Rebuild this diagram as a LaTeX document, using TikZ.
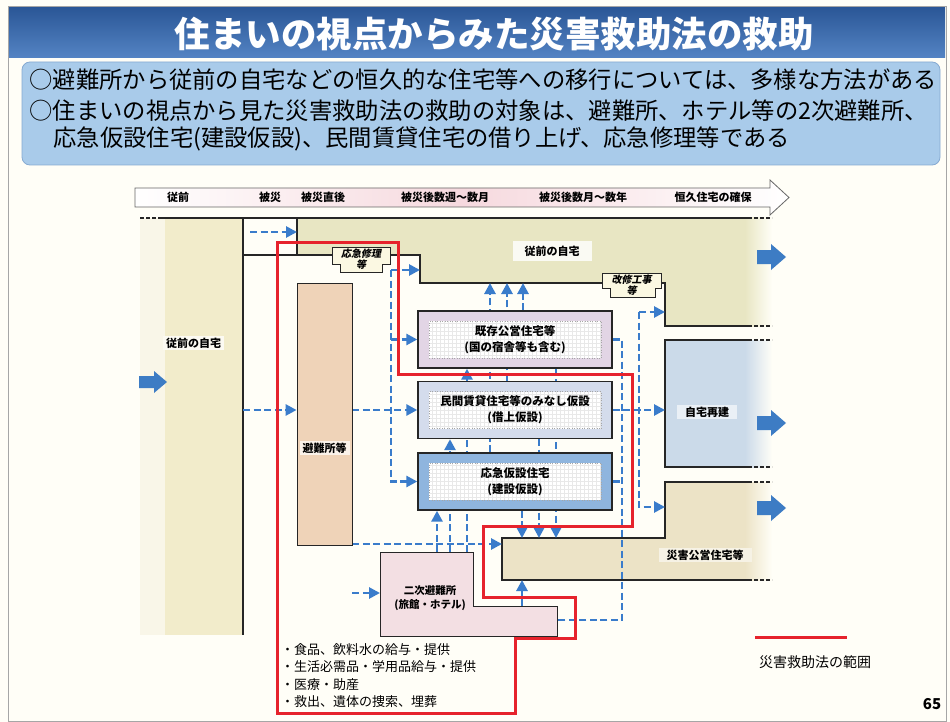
\documentclass[tikz,border=0pt]{standalone}
\usepackage{fontspec}
\setmainfont{Noto Sans CJK JP}
\newfontfamily\slantfont{Noto Sans CJK JP}[FakeSlant=0.2]
\usetikzlibrary{arrows.meta}

\pgfdeclarelayer{regions}
\pgfdeclarelayer{flows}
\pgfsetlayers{regions,flows,main}

\definecolor{pagebg}{HTML}{FFFEF7}
\definecolor{titletop}{HTML}{2B5797}
\definecolor{titlebot}{HTML}{5484C4}
\definecolor{subfill}{HTML}{A9CBEA}
\definecolor{subline}{HTML}{86AAD2}
\definecolor{tlpink}{HTML}{F6D9DE}
\definecolor{cream}{HTML}{F2ECCB}
\definecolor{olive}{HTML}{E8E6C3}
\definecolor{peach}{HTML}{EFD3B8}
\definecolor{kizonfill}{HTML}{E2D5E5}
\definecolor{minkanfill}{HTML}{D4DCEC}
\definecolor{oukyufill}{HTML}{8FB5DE}
\definecolor{rebuildfill}{HTML}{CBDAE9}
\definecolor{koeifill}{HTML}{ECE3C6}
\definecolor{nijifill}{HTML}{F3DFE3}
\definecolor{flowblue}{HTML}{3A7CCB}
\definecolor{bigblue}{HTML}{3D7CC4}
\definecolor{lawred}{HTML}{E6232C}
\definecolor{boxline}{HTML}{262626}
\definecolor{scrollfill}{HTML}{FBF8E2}

\begin{document}
\begin{tikzpicture}[x=1pt, y=-1pt,
    edge/.style={draw=boxline, line width=1.2pt},
    edgeend/.style={draw=boxline, line width=1.2pt, dash pattern=on 4pt off 2pt},
    flowline/.style={draw=flowblue, line width=2.7pt, dash pattern=on 7pt off 3.5pt},
    flow/.style={flowline, -{Triangle[length=11pt,width=11pt]}},
    box/.style={draw=boxline, line width=1.4pt, minimum width=194pt, minimum height=57pt,
      inner sep=0pt, align=center, font=\fontsize{11.5}{16}\selectfont\bfseries,
      path picture={
        \path ([xshift=11pt,yshift=10pt]path picture bounding box.south west) coordinate (in1)
              ([xshift=-11pt,yshift=-10pt]path picture bounding box.north east) coordinate (in2);
        \fill[white] (in1) rectangle (in2);
        \draw[gray!18, line width=0.25pt, step=4pt] (in1) grid (in2);
        \draw[gray!70, dotted, line width=0.5pt] (in1) rectangle (in2);
      }},
    tag/.style={inner xsep=3pt, inner ysep=2pt, font=\fontsize{11}{13}\selectfont\bfseries},
    tlabel/.style={font=\fontsize{11}{12}\selectfont\bfseries},
    scroll/.style={draw=boxline, line width=0.7pt, fill=scrollfill},
    lawline/.style={draw=lawred, line width=3pt}]
\useasboundingbox (0,0) rectangle (950,722);

\begin{pgfonlayer}{regions}
\fill[pagebg] (0,0) rectangle (950,722);
\draw[gray!70, line width=0.8pt] (8,6) rectangle (946,721);

% regions
\fill[cream!45] (140,218) rectangle (165,635);
\fill[cream] (165,218) rectangle (243,635);
\fill[olive] (297,218) -- (745,218) -- (745,326) -- (665,326) -- (665,283) -- (420,283) -- (420,255) -- (297,255) -- cycle;
\shade[left color=olive, right color=pagebg] (745,218) rectangle (772,326);
\fill[rebuildfill] (665,340) rectangle (745,467);
\shade[left color=rebuildfill, right color=pagebg] (745,340) rectangle (772,467);
\fill[koeifill] (502,538) -- (665,538) -- (665,482) -- (745,482) -- (745,580) -- (502,580) -- cycle;
\shade[left color=koeifill, right color=pagebg] (745,482) rectangle (772,580);

\draw[edge] (160,218) -- (748,218);
\draw[edgeend] (140,218) -- (160,218) (748,218) -- (772,218);
\draw[edge] (243,218) -- (243,635);
\draw[edge] (297,218) -- (297,255);
\draw[edge] (243,255) -- (420,255) -- (420,283) -- (665,283) -- (665,326) -- (748,326);
\draw[edgeend] (748,326) -- (772,326);
\draw[edge] (748,340) -- (665,340) -- (665,467) -- (748,467);
\draw[edgeend] (748,340) -- (772,340) (748,467) -- (772,467);
\draw[edge] (748,482) -- (665,482) -- (665,538) -- (502,538) -- (502,580) -- (748,580);
\draw[edgeend] (748,482) -- (772,482) (748,580) -- (772,580);
\end{pgfonlayer}

% title
\shade[top color=titletop, bottom color=titlebot] (9,8) rectangle (945,58);
\node[text=white, font=\fontsize{35.5}{36}\selectfont\bfseries] (title) at (494,34) {住まいの視点からみた災害救助法の救助};

% lead text
\draw[draw=subline, fill=subfill, rounded corners=8pt, line width=0.8pt] (22,62) rectangle (940,165);
\node[anchor=west, font=\fontsize{23.3}{24}\selectfont] (lead1) at (26,80) {○避難所から従前の自宅などの恒久的な住宅等への移行については、多様な方法がある};
\node[anchor=west, font=\fontsize{23.3}{24}\selectfont] (lead2) at (26,111) {○住まいの視点から見た災害救助法の救助の対象は、避難所、ホテル等の2次避難所、};
\node[anchor=west, font=\fontsize{23.3}{24}\selectfont] (lead3) at (50,139) {応急仮設住宅(建設仮設)、民間賃貸住宅の借り上げ、応急修理等である};

% time line
\shadedraw[left color=white, right color=white, middle color=tlpink, draw=gray!80!black, line width=0.8pt]
  (135,188) -- (770,188) -- (770,180) -- (789,197.5) -- (770,215) -- (770,207) -- (135,207) -- cycle;
\node[tlabel] (tl1) at (178,197.5) {従前};
\node[tlabel] (tl2) at (270,197.5) {被災};
\node[tlabel] (tl3) at (323,197.5) {被災直後};
\node[tlabel] (tl4) at (445,197.5) {被災後数週～数月};
\node[tlabel] (tl5) at (583,197.5) {被災後数月～数年};
\node[tlabel] (tl6) at (713,197.5) {恒久住宅の確保};

% connector ends on the regions
\coordinate (cellL) at (250,232);
\coordinate (homeL) at (297,232);
\coordinate (colR) at (243,410);
\coordinate (bus1) at (391,270);
\coordinate (homeStep) at (420,270);
\coordinate (homeB) at (540,283);
\coordinate (koeiL) at (502,544);
\coordinate (koeiT) at (560,538);
\coordinate (koeiB) at (522,580);
\coordinate (nijiW) at (380,593);
\coordinate (nijiT1) at (437,552);
\coordinate (nijiT2) at (450,552);
\coordinate (nijiT3) at (467,552);
\coordinate (nijiStep) at (522,606);
\coordinate (nijiE) at (557,620);
\coordinate (busB) at (622,620);
\coordinate (busC) at (639,312);
\coordinate (homeR) at (665,312);
\coordinate (rebuildL) at (665,410);
\coordinate (koeiR) at (665,507);

% boxes
\node[draw=boxline, line width=0.8pt, fill=peach, minimum width=55pt, minimum height=262pt, inner sep=0pt] (shelter) at (324.5,414) {};
\node[box, fill=kizonfill] (kizon) at (515,339.5) {既存公営住宅等\\(国の宿舎等も含む)};
\node[box, fill=minkanfill] (minkan) at (515,410) {民間賃貸住宅等のみなし仮設\\(借上仮設)};
\node[box, fill=oukyufill] (oukyu) at (515,481.5) {応急仮設住宅\\(建設仮設)};
\draw[edge, line width=0.8pt, fill=nijifill] (380,552) -- (473,552) -- (473,606) -- (557,606) -- (557,636) -- (380,636) -- cycle;

% flows
\begin{pgfonlayer}{flows}
\draw[flow] (cellL) -- (homeL);
\draw[flow] (colR) -- (colR -| shelter.west);
\draw[flow] (shelter.east |- minkan.west) -- (minkan.west);
\draw[flow] (bus1) -- (homeStep);
\draw[flow] (bus1) -- (bus1 |- oukyu.west) -- (oukyu.west);
\draw[flow] (bus1 |- kizon.west) -- (kizon.west);
\draw[flow] (shelter.east |- koeiL) -- (koeiL);
\draw[flow] (shelter.east |- nijiW) -- (nijiW);
\draw[flow] (nijiT1) -- (nijiT1 |- oukyu.south);
\draw[flow] (nijiT2) -- (nijiT2 |- minkan.south);
\draw[flow] (nijiT3) -- (nijiT3 |- kizon.south);
\draw[flow] ([xshift=-25pt]oukyu.north) -- ([xshift=-25pt]oukyu.north |- homeB);
\draw[flow] ([xshift=-8pt]minkan.north) -- ([xshift=-8pt]minkan.north |- homeB);
\draw[flow] ([xshift=8pt]kizon.north) -- ([xshift=8pt]kizon.north |- homeB);
\draw[flow] ([xshift=7pt]oukyu.south) -- ([xshift=7pt]oukyu.south |- koeiT);
\draw[flow] ([xshift=24pt]minkan.south) -- ([xshift=24pt]minkan.south |- koeiT);
\draw[flow] ([xshift=41pt]kizon.south) -- ([xshift=41pt]kizon.south |- koeiT);
\draw[flow] (nijiStep) -- (koeiB);
\draw[flowline] (kizon.east) -| (busB) -- (nijiE);
\draw[flowline] (oukyu.east) -- (oukyu.east -| busB);
\draw[flow] (minkan.east) -- (rebuildL);
\draw[flow] (busC) -- (homeR);
\draw[flow] (busC) |- (koeiR);
\end{pgfonlayer}

% labels
\node[tag, anchor=west, fill=white!75!cream] (before) at (163,343) {従前の自宅};
\node[tag, fill=white!80!olive, inner xsep=12pt, inner ysep=5pt] (prevhome) at (552,251) {従前の自宅};
\node[tag, fill=white!70!peach] (shelterlbl) at (324.5,448) {避難所等};
\node[tag, fill=white!60!rebuildfill, inner xsep=8pt] (rebuild) at (707,412) {自宅再建};
\node[tag, fill=white!55!koeifill, inner xsep=8pt] (koei) at (705,555) {災害公営住宅等};
\node[tag, align=center, font=\fontsize{10.5}{14}\selectfont\bfseries] (niji) at (430,598) {二次避難所\\(旅館・ホテル)};

% scroll labels
\draw[scroll] (332,247) -- (390,247) -- (390,264) -- (382,264) -- (382,272) -- (340,272) -- (340,264) -- (332,264) -- cycle;
\node[align=center, inner sep=0pt, font=\fontsize{10}{11}\selectfont\slantfont\bfseries] (repair) at (361,259.5) {応急修理\\等};
\draw[scroll] (602,273) -- (661,273) -- (661,288) -- (655,288) -- (655,297) -- (610,297) -- (610,288) -- (602,288) -- cycle;
\node[align=center, inner sep=0pt, font=\fontsize{10}{11}\selectfont\slantfont\bfseries] (renov) at (631.5,285) {改修工事\\等};

% big arrows
\fill[bigblue] (139,376) -- (154,376) -- (154,371) -- (167,382) -- (154,393) -- (154,388) -- (139,388) -- cycle;
\foreach \yy in {257,423,508}
  \fill[bigblue] (757,\yy-7) -- (771,\yy-7) -- (771,\yy-13) -- (786,\yy) -- (771,\yy+13) -- (771,\yy+7) -- (757,\yy+7) -- cycle;

% scope of the law
\draw[lawline] (277,242) -- (398,242) -- (398,374) -- (632,374) -- (632,526) -- (483,526) -- (483,597)
  -- (575,597) -- (575,638) -- (515,638) -- (515,713) -- (277,713) -- cycle;
\node[anchor=north west, align=left, inner sep=0pt, font=\fontsize{13}{17.5}\selectfont] (aid) at (281,643)
  {・食品、飲料水の給与・提供\\・生活必需品・学用品給与・提供\\・医療・助産\\・救出、遺体の捜索、埋葬};

% legend
\draw[lawline] (755,637) -- (847,637);
\node[font=\fontsize{14}{15}\selectfont] (legend) at (815,662) {災害救助法の範囲};
\node[font=\fontsize{15}{16}\selectfont\bfseries] (pageno) at (932,704) {65};
\end{tikzpicture}
\end{document}
